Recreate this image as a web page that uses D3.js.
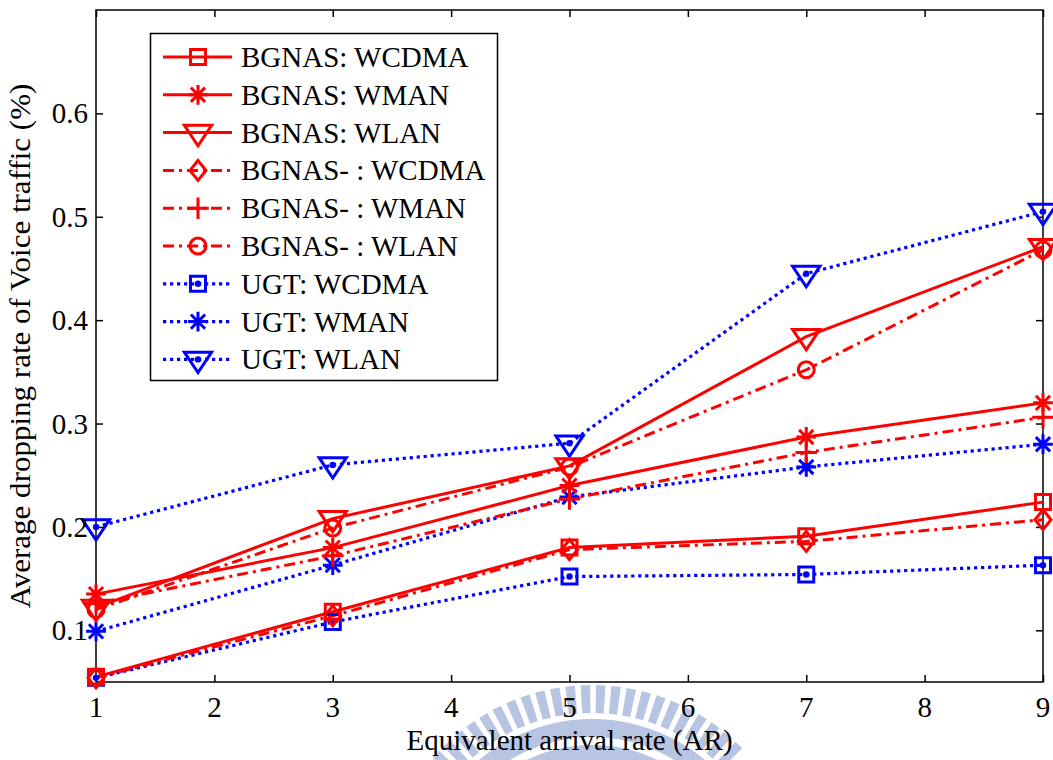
<!DOCTYPE html>
<html>
<head>
<meta charset="utf-8">
<script src="https://cdn.jsdelivr.net/npm/d3@7"></script>
<style>
  html, body { margin: 0; padding: 0; background: #fff; }
  svg { display: block; }
  svg text { font-family: "Liberation Serif", "Times New Roman", serif; fill: #000; }
</style>
</head>
<body>
<svg id="chart" width="1053" height="760"></svg>
<script>
// Equivalent arrival rate (x) and dropping rates (%) per scheme / network
const arrivalRates = [1, 3, 5, 7, 9];
const xTicks = [1, 2, 3, 4, 5, 6, 7, 8, 9];
const yTicks = [0.1, 0.2, 0.3, 0.4, 0.5, 0.6];

const bgnasWcdma  = [0.055, 0.118, 0.180, 0.191, 0.224];
const bgnasWman   = [0.135, 0.180, 0.240, 0.287, 0.320];
const bgnasWlan   = [0.122, 0.208, 0.259, 0.384, 0.471];
const bgnasMWcdma = [0.054, 0.114, 0.178, 0.186, 0.207];
const bgnasMWman  = [0.126, 0.172, 0.227, 0.272, 0.306];
const bgnasMWlan  = [0.120, 0.199, 0.258, 0.352, 0.468];
const ugtWcdma    = [0.054, 0.108, 0.152, 0.154, 0.163];
const ugtWman     = [0.099, 0.163, 0.229, 0.258, 0.280];
const ugtWlan     = [0.200, 0.260, 0.281, 0.445, 0.505];

const seriesNames = [
  "BGNAS: WCDMA", "BGNAS: WMAN", "BGNAS: WLAN",
  "BGNAS- : WCDMA", "BGNAS- : WMAN", "BGNAS- : WLAN",
  "UGT: WCDMA", "UGT: WMAN", "UGT: WLAN"
];
const seriesValues = [bgnasWcdma, bgnasWman, bgnasWlan, bgnasMWcdma, bgnasMWman, bgnasMWlan, ugtWcdma, ugtWman, ugtWlan];
const seriesMarkers = ["square", "asterisk", "triangle", "diamond", "plus", "circle", "square", "asterisk", "triangle"];
const seriesStyles = ["solid", "solid", "solid", "dashdot", "dashdot", "dashdot", "dot", "dot", "dot"];

const RED = "#ff0000", BLUE = "#0000ff";
const styleDef = {
  solid:   { color: RED,  dash: null,            width: 3 },
  dashdot: { color: RED,  dash: "11,5,3,5",      width: 3 },
  dot:     { color: BLUE, dash: "3.2,3.8",       width: 3.2 }
};

const svg = d3.select("#chart");
const margin = { left: 96, right: 10, top: 10, bottom: 78 };
const W = 1053, H = 760;
const x = d3.scaleLinear().domain([1, 9]).range([margin.left, W - margin.right]);
const y = d3.scaleLinear().domain([0.05, 0.7]).range([H - margin.bottom, margin.top]);

// faint institutional emblem behind the axis label
const wm = svg.append("g").attr("fill", "#b4c2e2").attr("opacity", 0.95);
const cx = 592, cy = 895;
for (let a = -48; a <= 48; a += 4.2) {
  const r0 = 182, r1 = 210, half = 1.3;
  const p = d3.path();
  const t0 = (a - half - 90) * Math.PI / 180, t1 = (a + half - 90) * Math.PI / 180;
  p.moveTo(cx + r0 * Math.cos(t0), cy + r0 * Math.sin(t0));
  p.lineTo(cx + r1 * Math.cos(t0), cy + r1 * Math.sin(t0));
  p.lineTo(cx + r1 * Math.cos(t1), cy + r1 * Math.sin(t1));
  p.lineTo(cx + r0 * Math.cos(t1), cy + r0 * Math.sin(t1));
  p.closePath();
  wm.append("path").attr("d", p.toString());
}
wm.append("path").attr("d", d3.arc()({ innerRadius: 158, outerRadius: 176, startAngle: -0.9, endAngle: 0.9 }))
  .attr("transform", `translate(${cx},${cy})`);
wm.append("path").attr("d", d3.arc()({ innerRadius: 120, outerRadius: 150, startAngle: -0.45, endAngle: 0.45 }))
  .attr("transform", `translate(${cx},${cy})`);

// marker shapes
function markerPath(kind, s) {
  const p = d3.path();
  switch (kind) {
    case "square":
      p.rect(-s * 0.5, -s * 0.5, s, s); break;
    case "triangle": {
      const w = s * 0.62, h = s * 0.6;
      p.moveTo(-w, -h * 0.55); p.lineTo(w, -h * 0.55); p.lineTo(0, h * 1.0); p.closePath(); break;
    }
    case "diamond":
      p.moveTo(0, -s * 0.62); p.lineTo(s * 0.5, 0); p.lineTo(0, s * 0.62); p.lineTo(-s * 0.5, 0); p.closePath(); break;
    case "circle":
      p.arc(0, 0, s * 0.5, 0, 2 * Math.PI); break;
    case "plus":
      p.moveTo(-s * 0.6, 0); p.lineTo(s * 0.6, 0); p.moveTo(0, -s * 0.6); p.lineTo(0, s * 0.6); break;
    case "asterisk": {
      const r = s * 0.55, d = r * 0.72;
      p.moveTo(-r, 0); p.lineTo(r, 0); p.moveTo(0, -r); p.lineTo(0, r);
      p.moveTo(-d, -d); p.lineTo(d, d); p.moveTo(-d, d); p.lineTo(d, -d); break;
    }
  }
  return p.toString();
}
const markerSize = { square: 15, triangle: 22, diamond: 16, circle: 16, plus: 18, asterisk: 18 };

function drawMarker(g, kind, color, withDot) {
  g.append("path").attr("d", markerPath(kind, markerSize[kind]))
    .attr("fill", "none").attr("stroke", color).attr("stroke-width", 3);
  if (withDot) g.append("circle").attr("r", 3.2).attr("fill", color);
}

// axes box with inward ticks on all sides (tick marks from d3 axes, labels placed from the scales)
const plot = svg.append("g");
const tickLen = 7;
const axB = d3.axisBottom(x).tickValues(xTicks).tickSize(-tickLen).tickFormat("");
const axT = d3.axisTop(x).tickValues(xTicks).tickSize(-tickLen).tickFormat("");
const axL = d3.axisLeft(y).tickValues(yTicks).tickSize(-tickLen).tickFormat("");
const axR = d3.axisRight(y).tickValues(yTicks).tickSize(-tickLen).tickFormat("");
function styleAxis(g) {
  g.select(".domain").remove();
  g.selectAll(".tick line").attr("stroke", "#000").attr("stroke-width", 1.5);
}
plot.append("g").attr("transform", `translate(0,${y(0.05)})`).call(axB).call(styleAxis);
plot.append("g").attr("transform", `translate(0,${y(0.7)})`).call(axT).call(styleAxis);
plot.append("g").attr("transform", `translate(${x(1)},0)`).call(axL).call(styleAxis);
plot.append("g").attr("transform", `translate(${x(9)},0)`).call(axR).call(styleAxis);
plot.append("rect").attr("x", x(1)).attr("y", y(0.7)).attr("width", x(9) - x(1)).attr("height", y(0.05) - y(0.7))
  .attr("fill", "none").attr("stroke", "#000").attr("stroke-width", 1.5);

const xLabels = svg.append("g").selectAll("text").data(xTicks).join("text")
  .attr("x", d => x(d)).attr("y", y(0.05) + 35).attr("text-anchor", "middle")
  .style("font-size", "29px").text(d3.format("d"));
const yLabels = svg.append("g").selectAll("text").data(yTicks).join("text")
  .attr("x", x(1) - 8).attr("y", d => y(d) + 10).attr("text-anchor", "end")
  .style("font-size", "29px").text(d3.format(".1f"));

// data lines and markers
const line = d3.line().x((d, i) => x(arrivalRates[i])).y(d => y(d));
const order = [6, 7, 8, 0, 1, 2, 3, 4, 5];
order.forEach(k => {
  const st = styleDef[seriesStyles[k]];
  plot.append("path").datum(seriesValues[k]).attr("d", line)
    .attr("fill", "none").attr("stroke", st.color).attr("stroke-width", st.width)
    .attr("stroke-dasharray", st.dash);
});
order.forEach(k => {
  const st = styleDef[seriesStyles[k]];
  seriesValues[k].forEach((v, i) => {
    const g = plot.append("g").attr("transform", `translate(${x(arrivalRates[i])},${y(v)})`);
    drawMarker(g, seriesMarkers[k], st.color, seriesStyles[k] === "dot");
  });
});

// legend
const lg = svg.append("g");
lg.append("rect").attr("x", 150.5).attr("y", 33.5).attr("width", 347).attr("height", 347)
  .attr("fill", "#fff").attr("stroke", "#000").attr("stroke-width", 1.5);
seriesNames.forEach((name, k) => {
  const st = styleDef[seriesStyles[k]];
  const yy = 57 + k * 37.8;
  lg.append("line").attr("x1", 163).attr("x2", 232).attr("y1", yy).attr("y2", yy)
    .attr("stroke", st.color).attr("stroke-width", st.width).attr("stroke-dasharray", st.dash);
  const g = lg.append("g").attr("transform", `translate(198,${yy})`);
  drawMarker(g, seriesMarkers[k], st.color, seriesStyles[k] === "dot");
  lg.append("text").attr("x", 241).attr("y", yy + 10).style("font-size", "29px").text(name);
});

// axis titles
svg.append("text").attr("x", (x(1) + x(9)) / 2).attr("y", 750).attr("text-anchor", "middle")
  .style("font-size", "29px").text("Equivalent arrival rate (AR)");
svg.append("text").attr("transform", `translate(30,${(y(0.05) + y(0.7)) / 2}) rotate(-90) scale(1.07,1)`)
  .attr("text-anchor", "middle").style("font-size", "29px")
  .text("Average dropping rate of Voice traffic (%)");
</script>
</body>
</html>
